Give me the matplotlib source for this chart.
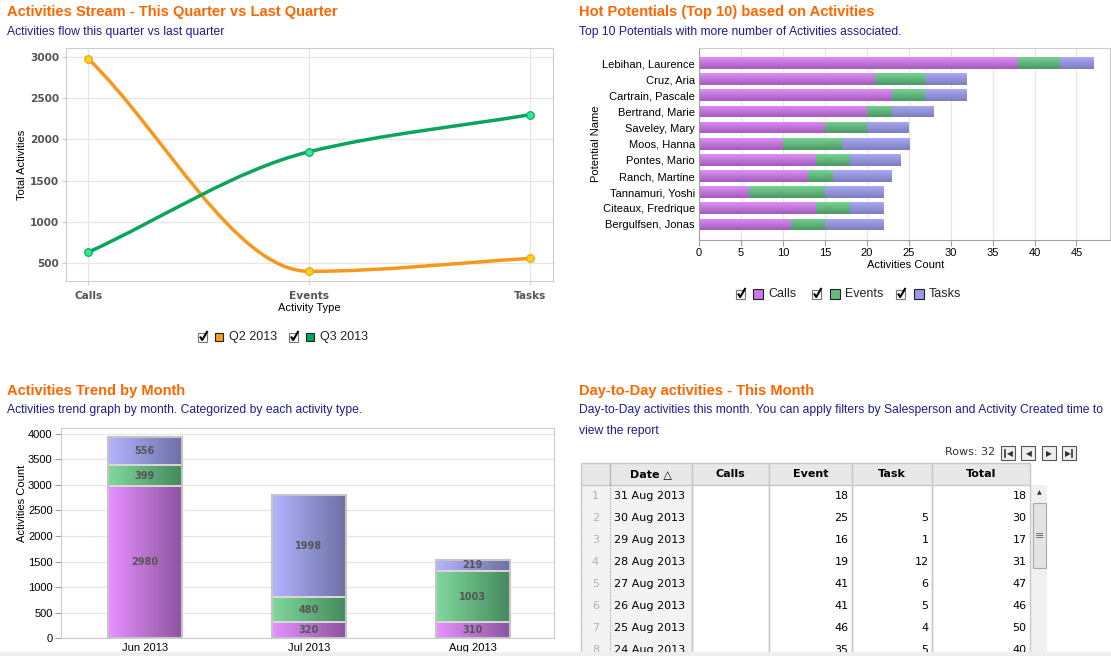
import numpy as np
import matplotlib
matplotlib.use('Agg')
import matplotlib.pyplot as plt
from matplotlib.path import Path
from matplotlib.patches import PathPatch, Rectangle
from matplotlib.colors import LinearSegmentedColormap
from matplotlib.table import Table

W, H = 1111, 656

# ---------------- data ----------------
activity_types = ['Calls', 'Events', 'Tasks']
q2_2013 = [2980, 399, 556]
q3_2013 = [630, 1850, 2300]

potential_names = ['Lebihan, Laurence', 'Cruz, Aria', 'Cartrain, Pascale', 'Bertrand, Marie',
                   'Saveley, Mary', 'Moos, Hanna', 'Pontes, Mario', 'Ranch, Martine',
                   'Tannamuri, Yoshi', 'Citeaux, Fredrique', 'Bergulfsen, Jonas']
potential_calls = [38, 21, 23, 20, 15, 10, 14, 13, 6, 14, 11]
potential_events = [5, 6, 4, 3, 5, 7, 4, 3, 9, 4, 4]
potential_tasks = [4, 5, 5, 5, 5, 8, 6, 7, 7, 4, 7]
potential_ticks = [0, 5, 10, 15, 20, 25, 30, 35, 40, 45]

months = ['Jun 2013', 'Jul 2013', 'Aug 2013']
month_calls = [2980, 320, 310]
month_events = [399, 480, 1003]
month_tasks = [556, 1998, 219]

table_columns = ['Date \u25b3', 'Calls', 'Event', 'Task', 'Total']
table_dates = ['31 Aug 2013', '30 Aug 2013', '29 Aug 2013', '28 Aug 2013',
               '27 Aug 2013', '26 Aug 2013', '25 Aug 2013', '24 Aug 2013']
table_calls = [None, None, None, None, None, None, None, None]
table_event = [18, 25, 16, 19, 41, 41, 46, 35]
table_task = [None, 5, 1, 12, 6, 5, 4, 5]
table_total = [18, 30, 17, 31, 47, 46, 50, 40]
rows_count = 32

# ---------------- style ----------------
ORANGE_T = '#FF6600'
SUB_C = '#201C8E'
C_Q2 = '#F7981D'
C_Q3 = '#08A55A'
GRID = '#E6E6E6'
FRAME = '#CCCCCC'

fig = plt.figure(figsize=(W / 100, H / 100), dpi=100)
fig.patch.set_facecolor('white')


def ax_rect(l, t, r, b):
    return [l / W, 1 - b / H, (r - l) / W, (b - t) / H]


ov = fig.add_axes([0, 0, 1, 1])
ov.set_xlim(0, W)
ov.set_ylim(H, 0)
ov.axis('off')
ov.set_zorder(10)
ov.patch.set_visible(False)

TFONT = dict(family='Liberation Sans', weight='bold', size=10.5, color=ORANGE_T)
SFONT = dict(family='Liberation Sans', size=8.7, color=SUB_C)

ov.text(7, 12, 'Activities Stream - This Quarter vs Last Quarter', va='center', **TFONT)
ov.text(7, 32, 'Activities flow this quarter vs last quarter', va='center', **SFONT)
ov.text(579, 12, 'Hot Potentials (Top 10) based on Activities', va='center', **TFONT)
ov.text(579, 32, 'Top 10 Potentials with more number of Activities associated.', va='center', **SFONT)
ov.text(7, 391, 'Activities Trend by Month', va='center', **TFONT)
ov.text(7, 410, 'Activities trend graph by month. Categorized by each activity type.', va='center', **SFONT)
ov.text(579, 391, 'Day-to-Day activities - This Month', va='center', **TFONT)
ov.text(579, 410, 'Day-to-Day activities this month. You can apply filters by Salesperson and Activity Created time to',
        va='center', **SFONT)
ov.text(579, 431, 'view the report', va='center', **SFONT)


def gradient_fill(ax, rect, c0, c1, horizontal=True, zorder=2):
    x, y = rect.get_x(), rect.get_y()
    w, h = rect.get_width(), rect.get_height()
    cmap = LinearSegmentedColormap.from_list('g', [c0, c1])
    g = np.linspace(0, 1, 64)
    grad = g.reshape(1, -1) if horizontal else g.reshape(-1, 1)
    im = ax.imshow(grad, cmap=cmap, extent=(x, x + w, y, y + h), origin='lower',
                   aspect='auto', interpolation='bilinear', zorder=zorder)
    im.set_clip_path(rect)


def checkbox(x, y):
    ov.add_patch(Rectangle((x, y - 4.5), 9, 9, facecolor='white', edgecolor='#777777', lw=0.8))
    ov.plot([x + 2, x + 4.2, x + 9.5], [y - 0.5, y + 3, y - 6], color='black', lw=1.5,
            solid_capstyle='butt')


def swatch(x, y, color, s=8):
    ov.add_patch(Rectangle((x, y - s / 2), s, s, facecolor=color, edgecolor='#222222', lw=0.8))


# ---------------- chart 1: smooth lines ----------------
ax1 = fig.add_axes(ax_rect(66, 48, 553, 281))
xs = np.arange(len(activity_types), dtype=float)


def mono_path(x, y):
    x = np.asarray(x, float)
    y = np.asarray(y, float)
    d = np.diff(y) / np.diff(x)
    m = np.zeros_like(y)
    m[0], m[-1] = d[0], d[-1]
    for k in range(1, len(y) - 1):
        if d[k - 1] * d[k] <= 0:
            m[k] = 0.0
        else:
            m[k] = 2.0 / (1.0 / d[k - 1] + 1.0 / d[k])
    verts = [(x[0], y[0])]
    codes = [Path.MOVETO]
    for k in range(len(y) - 1):
        h = x[k + 1] - x[k]
        verts += [(x[k] + h / 3, y[k] + m[k] * h / 3),
                  (x[k + 1] - h / 3, y[k + 1] - m[k + 1] * h / 3),
                  (x[k + 1], y[k + 1])]
        codes += [Path.CURVE4] * 3
    return Path(verts, codes)


ax1.add_patch(PathPatch(mono_path(xs, q2_2013), facecolor='none', edgecolor=C_Q2, lw=2.5, zorder=3))
ax1.add_patch(PathPatch(mono_path(xs, q3_2013), facecolor='none', edgecolor=C_Q3, lw=2.5, zorder=3))
ax1.plot(xs, q2_2013, 'o', ms=5.5, mfc='#FFD21A', mec='#E8A010', mew=0.8, zorder=4)
ax1.plot(xs, q3_2013, 'o', ms=5.5, mfc='#2FE89A', mec='#08A55A', mew=0.8, zorder=4)
ax1.set_xlim(-0.1, 2.104)
ax1.set_ylim(282, 3109)
ax1.set_yticks([500, 1000, 1500, 2000, 2500, 3000])
ax1.set_xticks(xs)
ax1.set_xticklabels(activity_types)
ax1.grid(True, color=GRID, lw=0.9)
ax1.set_axisbelow(True)
for s in ax1.spines.values():
    s.set_color(FRAME)
ax1.tick_params(axis='both', colors=FRAME, length=3, labelcolor='#555555')
ax1.tick_params(axis='y', pad=2)
ax1.tick_params(axis='x', pad=4.5)
for lab in ax1.get_xticklabels() + ax1.get_yticklabels():
    lab.set_fontfamily('DejaVu Sans')
    lab.set_fontweight('bold')
    lab.set_fontsize(7.6)
ov.text(22, 165, 'Total Activities', rotation=90, ha='center', va='center',
        family='Liberation Sans', size=8, color='black')
ov.text(309, 308, 'Activity Type', ha='center', va='center', family='Liberation Sans', size=8, color='black')

# legend 1
checkbox(198, 337)
swatch(215, 337, '#FF9C1A')
ov.text(229, 337, 'Q2 2013', va='center', family='Liberation Sans', size=9, color='#222222')
checkbox(289, 337)
swatch(306, 337, '#00A65A')
ov.text(320, 337, 'Q3 2013', va='center', family='Liberation Sans', size=9, color='#222222')

# ---------------- chart 2: hot potentials ----------------
ax2 = fig.add_axes(ax_rect(699, 48, 1110, 239.5))
ax2.set_autoscale_on(False)
yy = np.arange(len(potential_names))
left_e = np.array(potential_calls)
left_t = left_e + np.array(potential_events)
seg_specs = [
    (potential_calls, np.zeros(len(yy)), '#DC90F8', '#A25BB9'),
    (potential_events, left_e, '#78D293', '#4C9764'),
    (potential_tasks, left_t, '#AAAAF6', '#7C7CBE'),
]
for vals, lefts, c0, c1 in seg_specs:
    bars = ax2.barh(yy, vals, left=lefts, height=0.73, facecolor='none', edgecolor='none', zorder=3)
    for r in bars:
        gradient_fill(ax2, r, c0, c1, horizontal=False, zorder=2)
ax2.set_xlim(0, 49)
ax2.set_ylim(10.93, -0.93)
ax2.set_xticks(potential_ticks)
ax2.set_yticks(yy)
ax2.set_yticklabels(potential_names)
ax2.grid(True, axis='x', color=GRID, lw=0.9)
ax2.set_axisbelow(True)
for k, s in ax2.spines.items():
    s.set_color(FRAME)
ax2.spines['left'].set_color('#A0A0A0')
ax2.spines['bottom'].set_color('#A0A0A0')
ax2.tick_params(axis='x', colors='#A0A0A0', length=4, pad=2, labelcolor='black')
ax2.tick_params(axis='y', length=0, pad=3, labelcolor='black')
for lab in ax2.get_xticklabels() + ax2.get_yticklabels():
    lab.set_fontfamily('Liberation Sans')
    lab.set_fontsize(8)
ov.text(596, 144, 'Potential Name', rotation=90, ha='center', va='center',
        family='Liberation Sans', size=8, color='black')
ov.text(906, 265, 'Activities Count', ha='center', va='center', family='Liberation Sans', size=8, color='black')

# legend 2
checkbox(736, 294)
swatch(753, 294, '#CC77E6', s=10)
ov.text(768, 294, 'Calls', va='center', family='Liberation Sans', size=9, color='#222222')
checkbox(812, 294)
swatch(830, 294, '#66BB80', s=10)
ov.text(845, 294, 'Events', va='center', family='Liberation Sans', size=9, color='#222222')
checkbox(896, 294)
swatch(914, 294, '#9999E6', s=10)
ov.text(929, 294, 'Tasks', va='center', family='Liberation Sans', size=9, color='#222222')

# ---------------- chart 3: trend by month ----------------
ax3 = fig.add_axes(ax_rect(61, 428, 554, 638.3))
ax3.set_autoscale_on(False)
xm = np.arange(len(months))
mc = np.array(month_calls)
me = np.array(month_events)
mt = np.array(month_tasks)
bw = 0.45
trend_specs = [
    (mc, np.zeros(3), '#E890FF', '#8C55A0'),
    (me, mc, '#80D89C', '#468A5D'),
    (mt, mc + me, '#B4B4FF', '#6E70A5'),
]
for vals, bottoms, c0, c1 in trend_specs:
    bars = ax3.bar(xm, vals, bottom=bottoms, width=bw, facecolor='none', edgecolor='#DADADA', lw=1.2, zorder=3)
    for r, v in zip(bars, vals):
        gradient_fill(ax3, r, c0, c1, horizontal=True, zorder=2)
        ax3.text(r.get_x() + r.get_width() / 2, r.get_y() + r.get_height() / 2, str(v),
                 ha='center', va='center', family='DejaVu Sans', weight='bold', size=7,
                 color='#555555', zorder=5)
ax3.bar(xm, mc + me + mt, width=bw, facecolor='none', edgecolor='#C4C4C4', lw=1.5, zorder=4)
ax3.set_xlim(-0.51, 2.495)
ax3.set_ylim(0, 4109)
ax3.set_yticks(np.arange(0, 4001, 500))
ax3.set_xticks(xm)
ax3.set_xticklabels(months)
ax3.grid(True, axis='y', color=GRID, lw=0.9)
ax3.set_axisbelow(True)
for s in ax3.spines.values():
    s.set_color(FRAME)
ax3.tick_params(axis='y', colors='#A0A0A0', length=4, pad=2, labelcolor='black')
ax3.tick_params(axis='x', length=0, pad=3.5, labelcolor='black')
for lab in ax3.get_xticklabels() + ax3.get_yticklabels():
    lab.set_fontfamily('Liberation Sans')
    lab.set_fontsize(8)
ov.text(22, 503, 'Activities Count', rotation=90, ha='center', va='center',
        family='Liberation Sans', size=8, color='black')

# ---------------- table ----------------
ov.text(995, 452, 'Rows: %d' % rows_count, ha='right', va='center', family='DejaVu Sans', size=8, color='#333333')
for i, bx in enumerate([1001, 1021, 1042, 1062]):
    ov.add_patch(Rectangle((bx, 446), 14, 14, facecolor='#EEEEEE', edgecolor='#555555', lw=0.8))
    cx = bx + 7
    glyph = '\u25c0' if i < 2 else '\u25b6'
    ox = 0.8 if i < 2 else -0.4
    if i == 0:
        ov.plot([bx + 4, bx + 4], [449.5, 456.5], color='#333333', lw=1.2)
        ox = 1.6
    if i == 3:
        ov.plot([bx + 10, bx + 10], [449.5, 456.5], color='#333333', lw=1.2)
        ox = -1.4
    ov.text(cx + ox, 453.3, glyph, ha='center', va='center', family='DejaVu Sans', size=5.5, color='#333333')

col_w = [29, 82, 77, 83, 80, 98]
row_h = 22
n_rows = len(table_dates)
tab_top, tab_left = 463, 581
tab_h = row_h * (n_rows + 1)

# frozen columns background (row numbers + date)
ov.add_patch(Rectangle((tab_left, tab_top + row_h), col_w[0] + col_w[1], tab_h, facecolor='#F3F3F3',
                       edgecolor='none', zorder=1))

tb = Table(ov, bbox=[tab_left / W, 1 - (tab_top + tab_h) / H, sum(col_w) / W, tab_h / H])
tb.set_zorder(3)


def fmt(v):
    return '' if v is None else str(v)


header = [''] + table_columns
for j, txt in enumerate(header):
    c = tb.add_cell(0, j, col_w[j], row_h, text=txt, loc='center', facecolor='#E8E8E8', edgecolor='#C8C8C8')
    c.get_text().set_fontweight('bold')
    c.visible_edges = 'closed'
for i in range(n_rows):
    vals = [str(i + 1), table_dates[i], fmt(table_calls[i]), fmt(table_event[i]),
            fmt(table_task[i]), fmt(table_total[i])]
    for j, txt in enumerate(vals):
        if j == 0:
            c = tb.add_cell(i + 1, j, col_w[j], row_h, text=txt, loc='center',
                            facecolor='none', edgecolor='#C8C8C8')
            c.get_text().set_color('#B0B0B0')
            c.visible_edges = 'L'
        elif j == 1:
            c = tb.add_cell(i + 1, j, col_w[j], row_h, text=txt, loc='left',
                            facecolor='none', edgecolor='#C8C8C8')
            c.PAD = 0.05
            c.visible_edges = 'R'
        else:
            c = tb.add_cell(i + 1, j, col_w[j], row_h, text=txt, loc='right',
                            facecolor='none', edgecolor='#C8C8C8')
            c.PAD = 3.5 / col_w[j]
            c.visible_edges = 'LR'
for c in tb.get_celld().values():
    c.get_text().set_fontfamily('DejaVu Sans')
    c.set_linewidth(1.0)
tb.auto_set_font_size(False)
tb.set_fontsize(8)
ov.add_table(tb)
ov.plot([610, 610], [463, 656], color='#AAAAAA', lw=0.8, ls=(0, (1, 1)), zorder=5)

# scrollbar
ov.add_patch(Rectangle((1031, 485), 16, 171, facecolor='#F0F0F0', edgecolor='none'))
ov.text(1039, 493, '\u25b2', ha='center', va='center', family='DejaVu Sans', size=4.5, color='#333333')
ov.add_patch(Rectangle((1033, 503), 13, 65, facecolor='#E4E4E4', edgecolor='#A8A8A8', lw=0.8))
ov.text(1039.5, 536, '\u2261', ha='center', va='center', family='DejaVu Sans', size=8, color='#666666')

# bottom band
ov.add_patch(Rectangle((0, 652), W, 4, facecolor='#EFEFEF', edgecolor='none', zorder=20))

fig.savefig('out.png', dpi=100, facecolor='white')
